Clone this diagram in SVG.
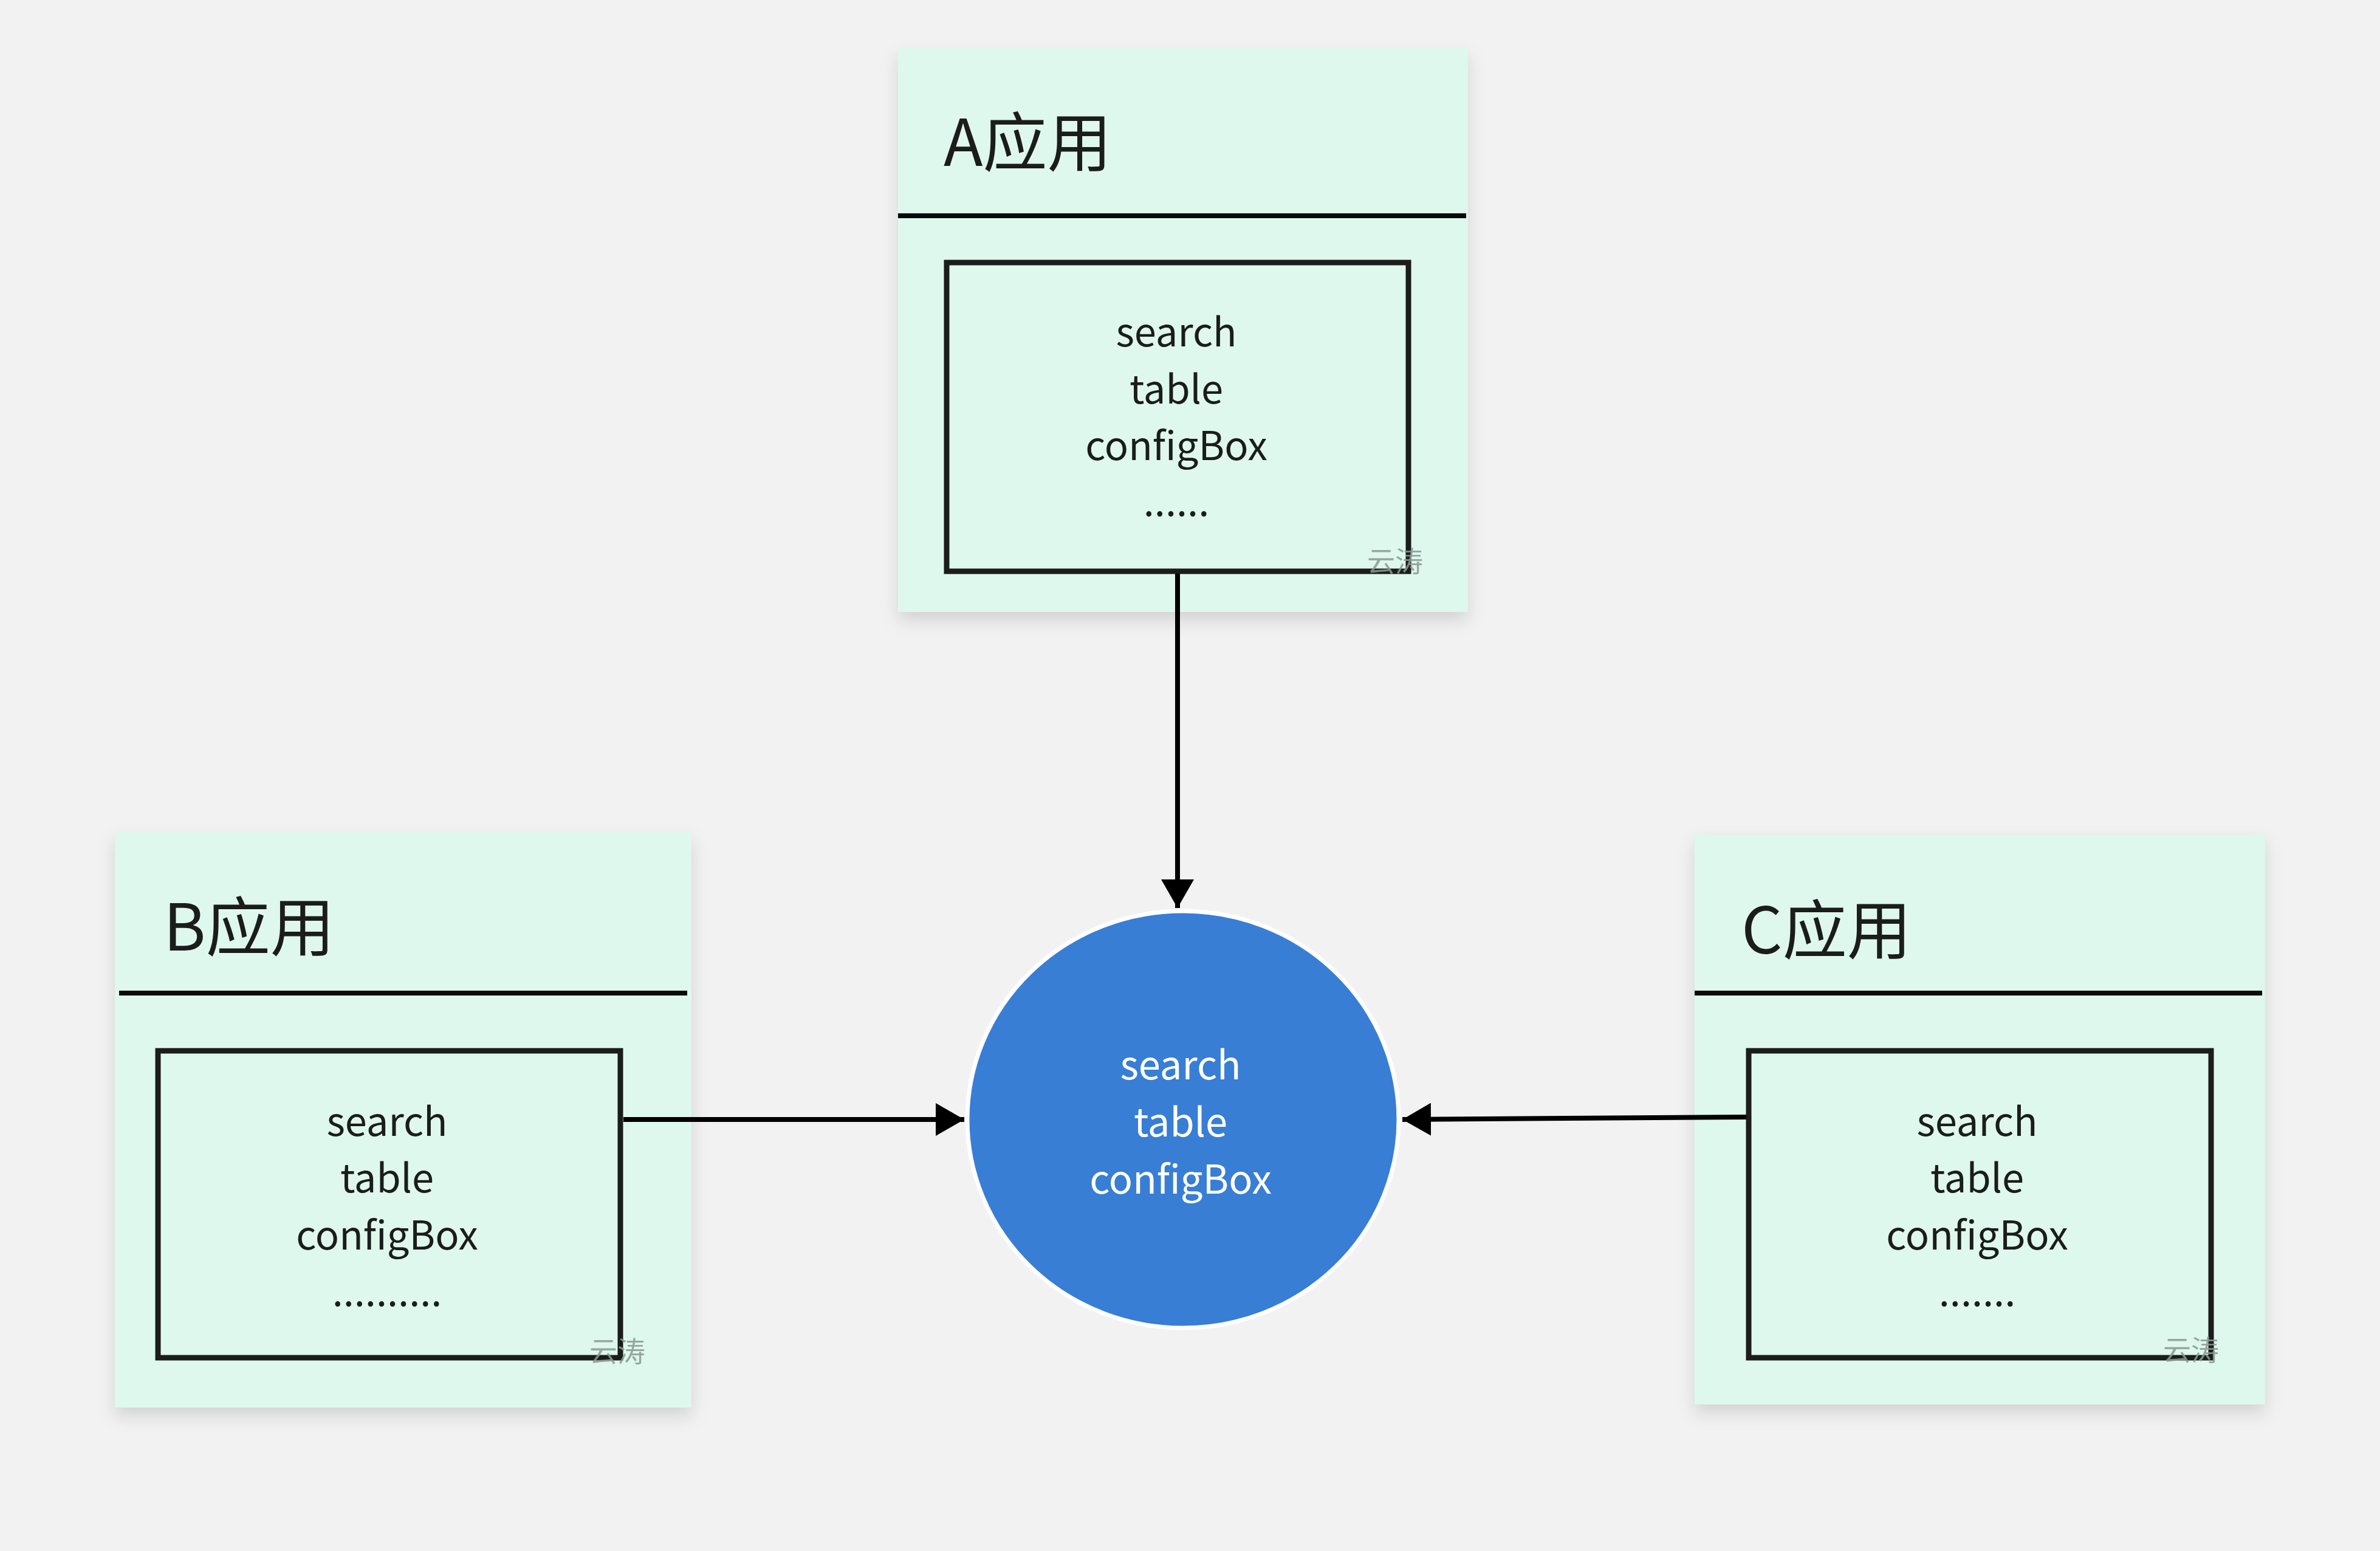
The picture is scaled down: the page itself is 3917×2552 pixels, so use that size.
<svg xmlns="http://www.w3.org/2000/svg" width="3917" height="2552" viewBox="0 0 3917 2552">
<style>
.panel{fill:#DEF8EE;filter:url(#sh)}
.div{stroke:#0a0a0a;stroke-width:8}
.inner{fill:none;stroke:#1c1c1c;stroke-width:9}
.title{font-family:"Noto Sans CJK SC","Noto Sans",sans-serif;font-size:106px;fill:#1c1c1c}
.body{font-family:"Noto Sans CJK SC","Noto Sans",sans-serif;font-size:65px;fill:#1c1c1c;text-anchor:middle}
.wm{font-family:"Noto Sans CJK SC",sans-serif;font-size:46px;fill:#8a9a94;opacity:0.85}
.conn{stroke:#000;stroke-width:8;fill:none}
</style>
<defs>
<filter id="sh" x="-10%" y="-10%" width="120%" height="125%">
<feDropShadow dx="0" dy="14" stdDeviation="14" flood-color="#000" flood-opacity="0.13"/>
</filter>
<marker id="arr" markerUnits="userSpaceOnUse" markerWidth="48" markerHeight="54" refX="47" refY="27" orient="auto" viewBox="0 0 48 54">
<path d="M0,0 L47,27 L0,54 z" fill="#000"/>
</marker>
</defs>
<rect width="3917" height="2552" fill="#F2F2F2"/>

<g id="nodeA">
<rect class="panel" x="1478" y="79" width="938" height="928"/>
<line class="div" x1="1478" y1="355" x2="2413" y2="355"/>
<text class="title" x="1553" y="273">A应用</text>
<rect class="inner" x="1558" y="432" width="760" height="508"/>
<text class="body" x="1936" y="570">search</text>
<text class="body" x="1936" y="664">table</text>
<text class="body" x="1936" y="757">configBox</text>
<text class="body" x="1936" y="849">......</text>
<text class="wm" x="2250" y="940">云涛</text>
</g>

<g id="nodeB">
<rect class="panel" x="189" y="1369" width="949" height="947"/>
<line class="div" x1="196" y1="1634" x2="1131" y2="1634"/>
<text class="title" x="269" y="1564">B应用</text>
<rect class="inner" x="260" y="1729" width="761" height="505"/>
<text class="body" x="637" y="1869">search</text>
<text class="body" x="637" y="1962">table</text>
<text class="body" x="637" y="2056">configBox</text>
<text class="body" x="637" y="2149">..........</text>
<text class="wm" x="970" y="2240">云涛</text>
</g>

<g id="nodeC">
<rect class="panel" x="2789" y="1373" width="939" height="938"/>
<line class="div" x1="2789" y1="1634" x2="3723" y2="1634"/>
<text class="title" x="2866" y="1569">C应用</text>
<rect class="inner" x="2878" y="1729" width="761" height="505"/>
<text class="body" x="3254" y="1869">search</text>
<text class="body" x="3254" y="1962">table</text>
<text class="body" x="3254" y="2056">configBox</text>
<text class="body" x="3254" y="2149">.......</text>
<text class="wm" x="3560" y="2238">云涛</text>
</g>

<g id="center">
<ellipse cx="1947" cy="1842" rx="355" ry="343" fill="#387ED5" stroke="#ffffff" stroke-width="7"/>
<text class="body" x="1943" y="1776" style="fill:#ffffff">search</text>
<text class="body" x="1943" y="1870" style="fill:#ffffff">table</text>
<text class="body" x="1943" y="1964" style="fill:#ffffff">configBox</text>
</g>

<g id="connectors">
<line class="conn" x1="1938" y1="944" x2="1938" y2="1494" marker-end="url(#arr)"/>
<line class="conn" x1="1026" y1="1842" x2="1587" y2="1842" marker-end="url(#arr)"/>
<line class="conn" x1="2874" y1="1838" x2="2308" y2="1842" marker-end="url(#arr)"/>
</g>
</svg>
